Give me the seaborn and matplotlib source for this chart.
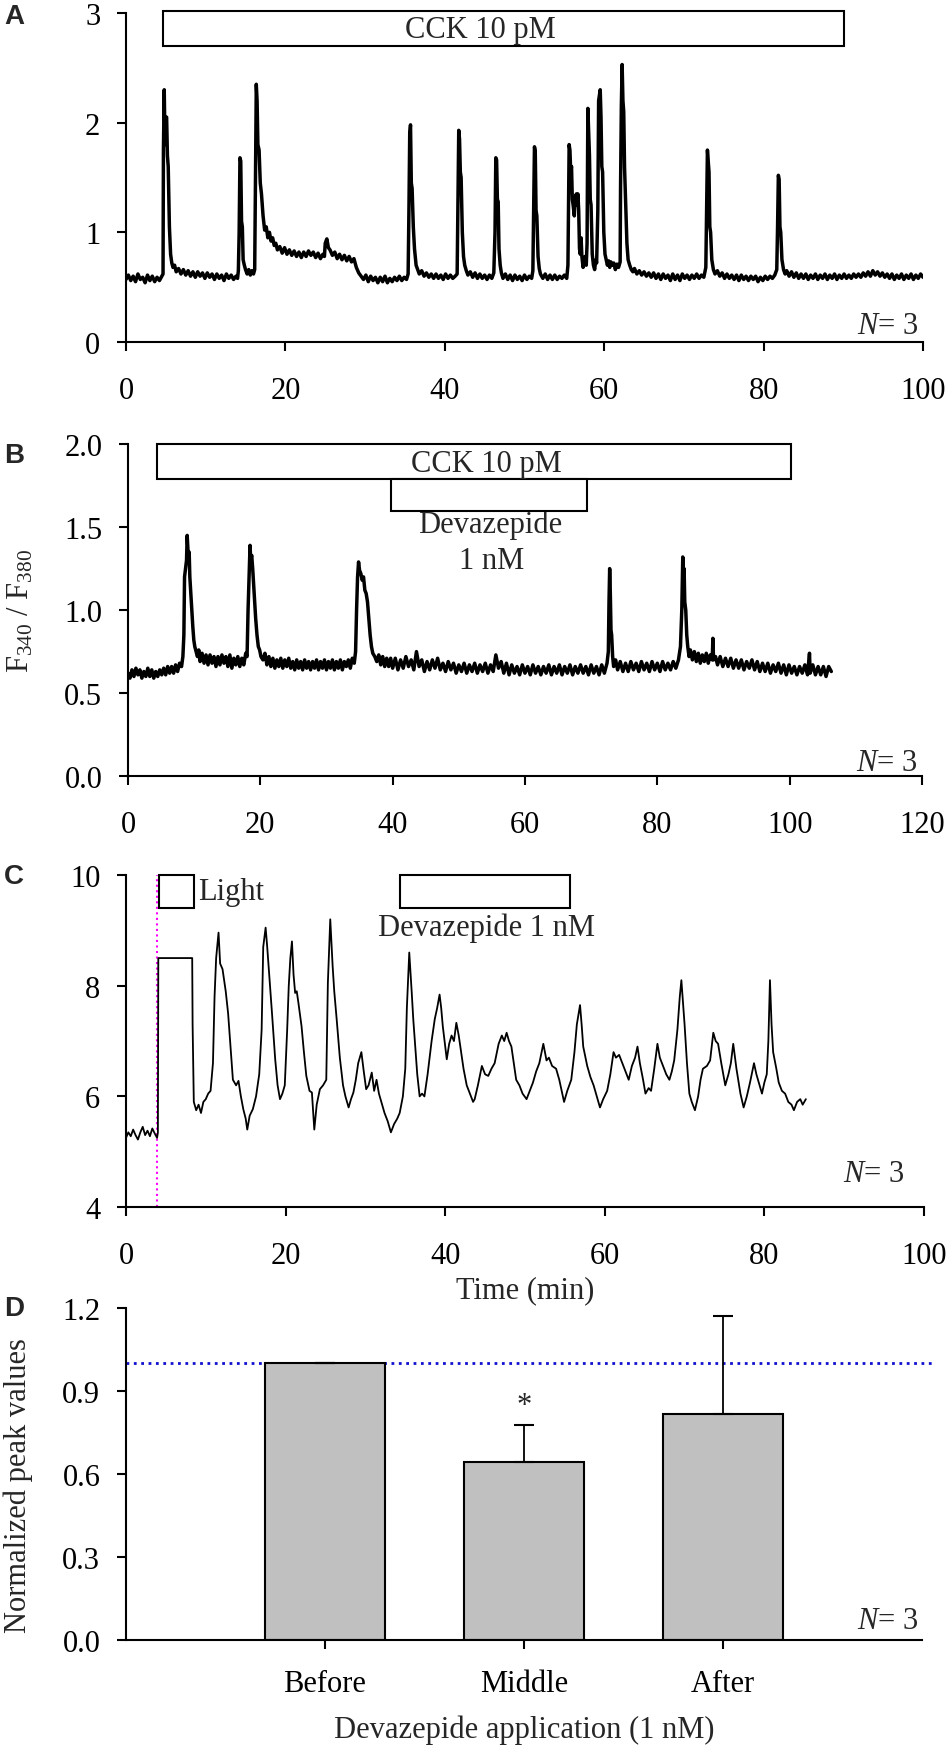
import numpy as np
import pandas as pd
import matplotlib
matplotlib.use("Agg")
import matplotlib.pyplot as plt
from matplotlib.patches import Rectangle
import seaborn as sns

sns.set_theme(style="ticks")
plt.rcParams["font.family"] = ["Liberation Serif", "DejaVu Serif"]
plt.rcParams["mathtext.fontset"] = "custom"
plt.rcParams["mathtext.rm"] = "Liberation Serif"
plt.rcParams["mathtext.it"] = "Liberation Serif:italic"

FS = 22

# ---- panel A: CCK 10 pM, (time min, F340/F380)
trace_a = [
    (0.0, 0.57), (0.3, 0.61), (0.6, 0.56), (0.9, 0.60), (1.2, 0.55), (1.5, 0.62), (1.8, 0.57), (2.1, 0.59),
    (2.4, 0.54), (2.7, 0.61), (3.0, 0.56), (3.3, 0.60), (3.6, 0.55), (3.9, 0.59), (4.2, 0.56), (4.5, 0.60),
    (4.65, 0.62), (4.7, 1.75), (4.8, 2.30), (4.9, 1.80), (5.0, 2.05), (5.1, 2.05), (5.2, 1.70), (5.3, 1.60),
    (5.45, 1.05), (5.6, 0.80), (5.75, 0.72), (5.9, 0.68), (6.1, 0.70), (6.3, 0.64), (6.6, 0.67), (6.9, 0.62),
    (7.2, 0.66), (7.5, 0.61), (7.8, 0.65), (8.1, 0.60), (8.4, 0.64), (8.7, 0.59), (9.0, 0.64), (9.3, 0.60),
    (9.6, 0.63), (9.9, 0.58), (10.2, 0.63), (10.5, 0.59), (10.8, 0.62), (11.1, 0.57), (11.4, 0.62), (11.7, 0.58),
    (12.0, 0.61), (12.3, 0.56), (12.6, 0.62), (12.9, 0.58), (13.2, 0.61), (13.5, 0.57), (13.8, 0.60), (14.0, 0.58),
    (14.1, 0.65), (14.2, 1.00), (14.3, 1.68), (14.4, 1.65), (14.5, 1.10), (14.6, 1.05), (14.7, 0.75), (14.85, 0.70),
    (15.0, 0.66), (15.2, 0.62), (15.4, 0.66), (15.6, 0.61), (15.8, 0.65), (16.0, 0.62), (16.15, 0.66),
    (16.25, 1.50), (16.35, 2.35), (16.45, 2.20), (16.55, 1.80), (16.7, 1.75), (16.85, 1.45), (17.0, 1.35),
    (17.2, 1.15), (17.4, 1.02), (17.6, 1.05), (17.8, 0.95), (18.0, 1.00), (18.2, 0.92), (18.4, 0.95), (18.6, 0.88),
    (18.8, 0.90), (19.0, 0.84), (19.3, 0.87), (19.6, 0.81), (19.9, 0.86), (20.2, 0.80), (20.5, 0.84), (20.8, 0.79),
    (21.1, 0.83), (21.4, 0.78), (21.7, 0.82), (22.0, 0.77), (22.3, 0.82), (22.6, 0.78), (22.9, 0.83), (23.2, 0.79),
    (23.5, 0.82), (23.8, 0.77), (24.1, 0.81), (24.4, 0.76), (24.7, 0.80), (24.9, 0.78), (25.0, 0.90), (25.2, 0.94),
    (25.4, 0.86), (25.6, 0.84), (25.9, 0.79), (26.2, 0.82), (26.5, 0.76), (26.8, 0.80), (27.1, 0.75), (27.4, 0.79),
    (27.7, 0.74), (28.0, 0.78), (28.3, 0.73), (28.6, 0.76), (28.9, 0.68), (29.2, 0.63), (29.5, 0.60), (29.8, 0.57),
    (30.1, 0.61), (30.4, 0.55), (30.7, 0.60), (31.0, 0.56), (31.3, 0.59), (31.6, 0.54), (31.9, 0.59), (32.2, 0.55),
    (32.5, 0.60), (32.8, 0.54), (33.1, 0.58), (33.4, 0.55), (33.7, 0.59), (34.0, 0.56), (34.3, 0.60), (34.6, 0.56),
    (34.9, 0.59), (35.2, 0.57), (35.4, 0.62), (35.5, 1.20), (35.6, 1.90), (35.7, 1.98), (35.8, 1.45), (35.9, 1.40),
    (36.05, 1.05), (36.2, 0.85), (36.4, 0.70), (36.6, 0.66), (36.8, 0.62), (37.1, 0.65), (37.4, 0.60), (37.7, 0.63),
    (38.0, 0.59), (38.3, 0.62), (38.6, 0.58), (38.9, 0.62), (39.2, 0.58), (39.5, 0.61), (39.8, 0.57), (40.1, 0.62),
    (40.4, 0.58), (40.7, 0.61), (41.0, 0.58), (41.3, 0.60), (41.55, 0.62), (41.65, 1.30), (41.75, 1.93), (41.85, 1.85),
    (41.95, 1.55), (42.05, 1.50), (42.2, 1.00), (42.35, 0.78), (42.5, 0.70), (42.7, 0.65), (42.9, 0.61), (43.2, 0.64),
    (43.5, 0.59), (43.8, 0.63), (44.1, 0.58), (44.4, 0.62), (44.7, 0.58), (45.0, 0.61), (45.3, 0.57), (45.6, 0.61),
    (45.9, 0.58), (46.15, 0.63), (46.3, 1.00), (46.4, 1.68), (46.5, 1.66), (46.6, 1.30), (46.7, 1.28), (46.8, 0.85),
    (46.95, 0.70), (47.1, 0.63), (47.3, 0.58), (47.6, 0.62), (47.9, 0.57), (48.2, 0.61), (48.5, 0.56), (48.8, 0.61),
    (49.1, 0.57), (49.4, 0.60), (49.7, 0.56), (50.0, 0.61), (50.3, 0.57), (50.6, 0.60), (50.9, 0.58), (51.05, 0.65),
    (51.15, 1.20), (51.25, 1.78), (51.35, 1.74), (51.45, 1.20), (51.55, 1.15), (51.7, 0.78), (51.85, 0.67),
    (52.0, 0.62), (52.3, 0.58), (52.6, 0.62), (52.9, 0.57), (53.2, 0.61), (53.5, 0.57), (53.8, 0.61), (54.1, 0.57),
    (54.4, 0.60), (54.7, 0.58), (55.0, 0.61), (55.3, 0.58), (55.45, 0.70), (55.6, 1.80), (55.7, 1.75), (55.8, 1.55),
    (55.9, 1.60), (56.0, 1.30), (56.1, 1.25), (56.25, 1.15), (56.35, 1.30), (56.5, 1.35), (56.6, 1.25), (56.7, 1.35),
    (56.8, 1.20), (56.9, 0.85), (57.0, 0.80), (57.1, 0.95), (57.2, 0.78), (57.35, 0.68), (57.5, 0.75), (57.6, 0.78),
    (57.75, 0.70), (57.85, 0.90), (57.95, 2.13), (58.05, 1.90), (58.15, 1.70), (58.25, 1.30), (58.35, 1.25),
    (58.5, 0.80), (58.65, 0.70), (58.8, 0.66), (58.95, 0.75), (59.05, 0.72), (59.2, 1.20), (59.3, 2.20), (59.4, 2.25),
    (59.5, 2.30), (59.6, 2.05), (59.7, 1.60), (59.8, 1.55), (59.95, 1.00), (60.1, 0.80), (60.25, 0.75), (60.4, 0.70),
    (60.55, 0.74), (60.7, 0.68), (60.85, 0.73), (61.0, 0.70), (61.2, 0.72), (61.4, 0.66), (61.6, 0.71), (61.8, 0.68),
    (62.0, 0.73), (62.05, 1.40), (62.15, 2.15), (62.25, 2.53), (62.35, 2.20), (62.45, 2.10), (62.55, 1.60),
    (62.7, 1.25), (62.85, 0.90), (63.0, 0.75), (63.2, 0.70), (63.4, 0.66), (63.6, 0.64), (63.8, 0.67), (64.1, 0.62),
    (64.4, 0.65), (64.7, 0.61), (65.0, 0.64), (65.3, 0.60), (65.6, 0.63), (65.9, 0.59), (66.2, 0.63), (66.5, 0.58),
    (66.8, 0.62), (67.1, 0.57), (67.4, 0.62), (67.7, 0.58), (68.0, 0.61), (68.3, 0.56), (68.6, 0.62), (68.9, 0.57),
    (69.2, 0.61), (69.5, 0.56), (69.8, 0.62), (70.1, 0.58), (70.4, 0.61), (70.7, 0.57), (71.0, 0.61), (71.3, 0.58),
    (71.6, 0.62), (71.9, 0.58), (72.2, 0.61), (72.5, 0.59), (72.75, 0.68), (72.85, 1.20), (72.95, 1.75), (73.05, 1.65),
    (73.15, 1.55), (73.25, 1.05), (73.35, 1.00), (73.5, 0.75), (73.7, 0.66), (73.9, 0.62), (74.2, 0.65), (74.5, 0.60),
    (74.8, 0.63), (75.1, 0.58), (75.4, 0.62), (75.7, 0.58), (76.0, 0.61), (76.3, 0.57), (76.6, 0.61), (76.9, 0.56),
    (77.2, 0.61), (77.5, 0.57), (77.8, 0.60), (78.1, 0.56), (78.4, 0.60), (78.7, 0.57), (79.0, 0.60), (79.3, 0.55),
    (79.6, 0.59), (79.9, 0.56), (80.2, 0.60), (80.5, 0.57), (80.8, 0.60), (81.1, 0.58), (81.4, 0.61), (81.65, 0.66),
    (81.75, 1.05), (81.85, 1.52), (81.95, 1.48), (82.05, 1.05), (82.15, 1.00), (82.3, 0.75), (82.5, 0.66),
    (82.7, 0.62), (82.9, 0.65), (83.2, 0.60), (83.5, 0.64), (83.8, 0.59), (84.1, 0.63), (84.4, 0.58), (84.7, 0.62),
    (85.0, 0.58), (85.3, 0.62), (85.6, 0.57), (85.9, 0.61), (86.2, 0.58), (86.5, 0.62), (86.8, 0.57), (87.1, 0.61),
    (87.4, 0.58), (87.7, 0.62), (88.0, 0.57), (88.3, 0.61), (88.6, 0.58), (88.9, 0.62), (89.2, 0.57), (89.5, 0.61),
    (89.8, 0.58), (90.1, 0.62), (90.4, 0.58), (90.7, 0.61), (91.0, 0.58), (91.3, 0.62), (91.6, 0.59), (91.9, 0.62),
    (92.2, 0.59), (92.5, 0.63), (92.8, 0.60), (93.1, 0.64), (93.4, 0.60), (93.7, 0.65), (94.0, 0.61), (94.3, 0.64),
    (94.6, 0.60), (94.9, 0.63), (95.2, 0.59), (95.5, 0.62), (95.8, 0.58), (96.1, 0.62), (96.4, 0.57), (96.7, 0.61),
    (97.0, 0.58), (97.3, 0.62), (97.6, 0.57), (97.9, 0.61), (98.2, 0.58), (98.5, 0.62), (98.8, 0.57), (99.1, 0.61),
    (99.4, 0.58), (99.7, 0.62), (100.0, 0.59),
]

# ---- panel B: CCK 10 pM + devazepide 1 nM
trace_b = [
    (0.0, 0.62), (0.3, 0.59), (0.6, 0.64), (0.9, 0.60), (1.2, 0.65), (1.5, 0.61), (1.8, 0.64), (2.1, 0.59),
    (2.4, 0.63), (2.7, 0.60), (3.0, 0.65), (3.3, 0.60), (3.6, 0.64), (3.9, 0.59), (4.2, 0.63), (4.5, 0.60),
    (4.8, 0.64), (5.1, 0.61), (5.4, 0.65), (5.7, 0.61), (6.0, 0.66), (6.3, 0.62), (6.6, 0.66), (6.9, 0.62),
    (7.2, 0.67), (7.5, 0.63), (7.8, 0.68), (8.1, 0.66), (8.3, 0.72), (8.45, 0.85), (8.55, 1.20), (8.7, 1.25),
    (8.85, 1.30), (8.95, 1.45), (9.05, 1.38), (9.15, 1.30), (9.25, 1.35), (9.35, 1.20), (9.5, 1.10), (9.65, 1.00),
    (9.8, 0.90), (9.95, 0.82), (10.1, 0.78), (10.3, 0.75), (10.5, 0.72), (10.7, 0.76), (10.9, 0.69), (11.2, 0.74),
    (11.5, 0.68), (11.8, 0.73), (12.1, 0.67), (12.4, 0.73), (12.7, 0.68), (13.0, 0.72), (13.3, 0.66), (13.6, 0.72),
    (13.9, 0.67), (14.2, 0.73), (14.5, 0.68), (14.8, 0.72), (15.1, 0.66), (15.4, 0.73), (15.7, 0.65), (16.0, 0.71),
    (16.3, 0.67), (16.6, 0.72), (16.9, 0.66), (17.2, 0.71), (17.5, 0.67), (17.8, 0.74), (18.0, 0.72), (18.15, 1.00),
    (18.3, 1.20), (18.45, 1.39), (18.55, 1.30), (18.7, 1.33), (18.85, 1.25), (19.0, 1.15), (19.15, 1.05),
    (19.3, 0.95), (19.5, 0.85), (19.7, 0.78), (19.9, 0.76), (20.1, 0.72), (20.4, 0.70), (20.7, 0.74), (21.0, 0.67),
    (21.3, 0.72), (21.6, 0.66), (21.9, 0.71), (22.2, 0.65), (22.5, 0.70), (22.8, 0.66), (23.1, 0.71), (23.4, 0.65),
    (23.7, 0.70), (24.0, 0.66), (24.3, 0.71), (24.6, 0.65), (24.9, 0.69), (25.2, 0.64), (25.5, 0.70), (25.8, 0.65),
    (26.1, 0.69), (26.4, 0.64), (26.7, 0.70), (27.0, 0.65), (27.3, 0.69), (27.6, 0.64), (27.9, 0.69), (28.2, 0.65),
    (28.5, 0.70), (28.8, 0.64), (29.1, 0.69), (29.4, 0.65), (29.7, 0.70), (30.0, 0.64), (30.3, 0.69), (30.6, 0.65),
    (30.9, 0.70), (31.2, 0.64), (31.5, 0.69), (31.8, 0.65), (32.1, 0.70), (32.4, 0.64), (32.7, 0.69), (33.0, 0.66),
    (33.3, 0.70), (33.6, 0.65), (33.9, 0.71), (34.2, 0.68), (34.4, 0.75), (34.55, 1.00), (34.7, 1.20), (34.85, 1.29),
    (35.0, 1.24), (35.2, 1.22), (35.4, 1.18), (35.6, 1.20), (35.8, 1.12), (36.0, 1.10), (36.2, 1.05), (36.4, 0.95),
    (36.6, 0.85), (36.8, 0.78), (37.0, 0.74), (37.3, 0.72), (37.6, 0.69), (37.9, 0.73), (38.2, 0.67), (38.5, 0.72),
    (38.8, 0.66), (39.1, 0.71), (39.4, 0.66), (39.7, 0.71), (40.0, 0.65), (40.4, 0.71), (40.8, 0.64), (41.2, 0.70),
    (41.6, 0.65), (42.0, 0.72), (42.4, 0.66), (42.8, 0.70), (43.2, 0.64), (43.6, 0.75), (44.0, 0.66), (44.4, 0.70),
    (44.8, 0.63), (45.2, 0.69), (45.6, 0.64), (46.0, 0.70), (46.4, 0.65), (46.8, 0.71), (47.2, 0.64), (47.6, 0.68),
    (48.0, 0.63), (48.4, 0.69), (48.8, 0.64), (49.2, 0.68), (49.6, 0.62), (50.0, 0.67), (50.4, 0.63), (50.8, 0.68),
    (51.2, 0.62), (51.6, 0.67), (52.0, 0.63), (52.4, 0.68), (52.8, 0.62), (53.2, 0.67), (53.6, 0.63), (54.0, 0.68),
    (54.4, 0.62), (54.8, 0.67), (55.2, 0.63), (55.6, 0.73), (56.0, 0.65), (56.4, 0.69), (56.8, 0.62), (57.2, 0.68),
    (57.6, 0.61), (58.0, 0.67), (58.4, 0.62), (58.8, 0.66), (59.2, 0.61), (59.6, 0.67), (60.0, 0.62), (60.4, 0.66),
    (60.8, 0.61), (61.2, 0.67), (61.6, 0.62), (62.0, 0.66), (62.4, 0.61), (62.8, 0.66), (63.2, 0.62), (63.6, 0.67),
    (64.0, 0.61), (64.4, 0.66), (64.8, 0.62), (65.2, 0.67), (65.6, 0.61), (66.0, 0.66), (66.4, 0.62), (66.8, 0.67),
    (67.2, 0.61), (67.6, 0.66), (68.0, 0.62), (68.4, 0.67), (68.8, 0.62), (69.2, 0.66), (69.6, 0.61), (70.0, 0.67),
    (70.4, 0.62), (70.8, 0.66), (71.2, 0.61), (71.6, 0.67), (72.0, 0.62), (72.4, 0.68), (72.6, 0.75), (72.7, 1.05),
    (72.8, 1.25), (72.9, 1.10), (73.0, 0.88), (73.1, 0.85), (73.25, 0.72), (73.4, 0.66), (73.7, 0.70), (74.0, 0.64),
    (74.4, 0.69), (74.8, 0.63), (75.2, 0.68), (75.6, 0.63), (76.0, 0.69), (76.4, 0.64), (76.8, 0.68), (77.2, 0.63),
    (77.6, 0.69), (78.0, 0.64), (78.4, 0.68), (78.8, 0.63), (79.2, 0.69), (79.6, 0.64), (80.0, 0.68), (80.4, 0.63),
    (80.8, 0.69), (81.2, 0.64), (81.6, 0.68), (82.0, 0.64), (82.4, 0.69), (82.8, 0.65), (83.2, 0.70), (83.5, 0.78),
    (83.7, 1.00), (83.85, 1.32), (83.95, 1.20), (84.05, 1.25), (84.15, 1.05), (84.3, 1.00), (84.45, 0.85),
    (84.6, 0.78), (84.8, 0.72), (85.0, 0.76), (85.3, 0.70), (85.6, 0.75), (85.9, 0.69), (86.2, 0.74), (86.5, 0.68),
    (86.8, 0.73), (87.1, 0.69), (87.4, 0.74), (87.7, 0.68), (88.0, 0.73), (88.3, 0.70), (88.4, 0.83), (88.5, 0.70),
    (88.8, 0.72), (89.1, 0.67), (89.5, 0.72), (89.9, 0.66), (90.3, 0.71), (90.7, 0.66), (91.1, 0.71), (91.5, 0.65),
    (91.9, 0.70), (92.3, 0.65), (92.7, 0.70), (93.1, 0.64), (93.5, 0.69), (93.9, 0.65), (94.3, 0.70), (94.7, 0.64),
    (95.1, 0.69), (95.5, 0.63), (95.9, 0.68), (96.3, 0.63), (96.7, 0.68), (97.1, 0.62), (97.5, 0.67), (97.9, 0.63),
    (98.3, 0.68), (98.7, 0.62), (99.1, 0.67), (99.5, 0.61), (99.9, 0.67), (100.3, 0.62), (100.7, 0.66), (101.1, 0.61),
    (101.5, 0.66), (101.9, 0.62), (102.3, 0.67), (102.7, 0.61), (103.0, 0.74), (103.1, 0.62), (103.5, 0.67),
    (103.9, 0.61), (104.3, 0.66), (104.7, 0.61), (105.1, 0.66), (105.5, 0.60), (105.9, 0.66), (106.3, 0.63),
]

# ---- panel C: light stimulation + devazepide 1 nM
trace_c = [
    (0.0, 5.25), (0.3, 5.35), (0.6, 5.28), (0.9, 5.40), (1.2, 5.30), (1.5, 5.22), (1.8, 5.35), (2.1, 5.45),
    (2.4, 5.30), (2.7, 5.38), (3.0, 5.28), (3.3, 5.42), (3.6, 5.33), (3.9, 5.25), (4.0, 5.35),
    (4.05, 8.50), (8.3, 8.50), (8.35, 7.30), (8.5, 5.90), (8.8, 5.75), (9.1, 5.85), (9.4, 5.70), (9.7, 5.90),
    (10.0, 5.95), (10.3, 6.05), (10.6, 6.10), (10.9, 6.60), (11.1, 7.80), (11.3, 8.50), (11.6, 8.96), (11.8, 8.40),
    (12.1, 8.30), (12.5, 7.90), (12.8, 7.50), (13.1, 6.90), (13.4, 6.30), (13.8, 6.20), (14.1, 6.28), (14.4, 6.00),
    (14.7, 5.77), (15.0, 5.60), (15.2, 5.40), (15.5, 5.65), (15.9, 5.77), (16.3, 6.00), (16.7, 6.40), (17.0, 7.20),
    (17.2, 8.70), (17.5, 9.05), (17.7, 8.70), (18.0, 8.10), (18.3, 7.50), (18.7, 6.67), (19.0, 6.20), (19.3, 5.95),
    (19.6, 6.05), (19.9, 6.20), (20.2, 7.20), (20.4, 8.00), (20.6, 8.50), (20.8, 8.80), (21.0, 8.20),
    (21.2, 7.87), (21.4, 7.90), (21.6, 7.70), (22.0, 7.27), (22.3, 6.80), (22.6, 6.37), (23.0, 6.10), (23.3, 6.07),
    (23.6, 5.40), (23.9, 5.85), (24.3, 6.13), (24.7, 6.20), (25.1, 6.30), (25.3, 8.05), (25.6, 9.20), (25.9, 8.35),
    (26.1, 7.90), (26.4, 7.40), (26.8, 6.70), (27.2, 6.20), (27.5, 6.00), (27.9, 5.80), (28.2, 5.95), (28.5, 6.07),
    (28.8, 6.30), (29.1, 6.60), (29.5, 6.80), (29.8, 6.45), (30.1, 6.13), (30.4, 6.20), (30.8, 6.43), (31.1, 6.10),
    (31.4, 6.30), (31.7, 6.05), (32.0, 5.90), (32.4, 5.70), (32.8, 5.55), (33.2, 5.35), (33.6, 5.50), (34.0, 5.60),
    (34.3, 5.70), (34.7, 6.00), (35.0, 6.50), (35.2, 7.60), (35.5, 8.60), (35.8, 7.90), (36.0, 7.40), (36.2, 7.00),
    (36.5, 6.40), (36.8, 6.00), (37.1, 6.05), (37.4, 6.00), (37.8, 6.40), (38.3, 7.00), (38.7, 7.40), (39.0, 7.60),
    (39.3, 7.84), (39.5, 7.60), (39.7, 7.27), (40.0, 6.90), (40.2, 6.67), (40.5, 6.95), (40.8, 7.10), (41.1, 7.00),
    (41.4, 7.33), (41.7, 7.10), (42.0, 6.80), (42.3, 6.50), (42.7, 6.20), (43.1, 6.05), (43.5, 5.90), (43.7, 5.95),
    (44.1, 6.20), (44.6, 6.55), (45.0, 6.40), (45.4, 6.37), (45.8, 6.50), (46.2, 6.60), (46.7, 6.95), (47.1, 7.10),
    (47.4, 7.00), (47.7, 7.15), (48.0, 7.00), (48.3, 6.90), (48.6, 6.60), (48.9, 6.30), (49.3, 6.20), (49.7, 6.05),
    (50.2, 5.95), (50.6, 6.10), (51.0, 6.25), (51.4, 6.45), (51.8, 6.60), (52.3, 6.95), (52.7, 6.65), (53.0, 6.70),
    (53.4, 6.55), (53.9, 6.50), (54.3, 6.30), (54.6, 6.10), (54.9, 5.90), (55.3, 6.10), (55.8, 6.30), (56.2, 6.80),
    (56.5, 7.30), (56.9, 7.65), (57.1, 7.30), (57.3, 6.90), (57.8, 6.55), (58.2, 6.35), (58.6, 6.20), (59.0, 6.00),
    (59.4, 5.80), (59.8, 5.95), (60.3, 6.10), (60.7, 6.40), (61.1, 6.80), (61.4, 6.70), (61.8, 6.75), (62.2, 6.60),
    (62.6, 6.45), (63.0, 6.30), (63.4, 6.55), (63.8, 6.70), (64.1, 6.90), (64.4, 6.60), (64.8, 6.30), (65.1, 6.05),
    (65.5, 6.15), (65.8, 6.10), (66.2, 6.50), (66.6, 6.95), (66.9, 6.70), (67.3, 6.55), (67.7, 6.40), (68.1, 6.30),
    (68.4, 6.45), (68.7, 6.65), (69.1, 7.20), (69.4, 7.80), (69.6, 8.10), (69.8, 7.70), (70.0, 7.30), (70.3, 6.60),
    (70.6, 6.05), (70.9, 5.90), (71.3, 5.75), (71.7, 6.00), (72.0, 6.30), (72.3, 6.50), (72.8, 6.55), (73.2, 6.65),
    (73.6, 7.15), (73.9, 7.00), (74.2, 6.95), (74.6, 6.60), (75.1, 6.20), (75.5, 6.40), (75.8, 6.60), (76.1, 6.95),
    (76.5, 6.50), (77.0, 6.05), (77.4, 5.80), (77.8, 6.00), (78.2, 6.25), (78.7, 6.60), (79.0, 6.40), (79.4, 6.20),
    (79.7, 6.05), (80.0, 6.25), (80.3, 6.40), (80.5, 7.00), (80.7, 8.10), (80.9, 7.30), (81.1, 6.80), (81.5, 6.50),
    (81.8, 6.25), (82.2, 6.10), (82.6, 6.05), (83.0, 5.90), (83.4, 5.85), (83.7, 5.75), (84.1, 5.90), (84.5, 5.95),
    (84.8, 5.85), (85.2, 5.95),
]

# ---- treatment periods (start, end) in minutes
cck_a = (4.6, 90.1)
cck_b = (4.4, 100.2)
devaz_b = (39.7, 69.3)
light_c = (4.2, 8.5)
devaz_c = (34.3, 55.6)
light_on_c = 3.9

# ---- panel D: normalized peak values
phases = ["Before", "Middle", "After"]
peak_mean = [1.0, 0.643, 0.817]
peak_err = [0.0, 0.134, 0.354]

fig = plt.figure(figsize=(9.5, 17.49), dpi=100)
axA = fig.add_axes([0.1326, 0.8039, 0.839, 0.1881])
axB = fig.add_axes([0.1347, 0.5557, 0.8358, 0.1898])
axC = fig.add_axes([0.1326, 0.3093, 0.840, 0.1898])
axD = fig.add_axes([0.1326, 0.0617, 0.838, 0.1898])


def style_axis(ax):
    sns.despine(ax=ax)
    for s in ("left", "bottom"):
        ax.spines[s].set_linewidth(1.5)
        ax.spines[s].set_color("black")
    ax.tick_params(axis="both", direction="out", length=6.5, width=1.5, colors="black",
                   labelsize=FS)
    ax.tick_params(axis="x", pad=18)
    ax.tick_params(axis="y", pad=12)
    ax.set_xlabel("")
    ax.set_ylabel("")


def box(ax, span, y0, y1):
    ax.add_patch(Rectangle((span[0], y0), span[1] - span[0], y1 - y0, facecolor="white",
                           edgecolor="black", lw=1.5, clip_on=False, zorder=5))


def n_label(ax, x, y):
    ax.text(x, y, r"$N$= 3", ha="right", va="center", fontsize=FS)


def trace(ax, rows, lw):
    df = pd.DataFrame(rows, columns=["time", "ratio"])
    sns.lineplot(data=df, x="time", y="ratio", ax=ax, estimator=None, sort=False,
                 color="black", lw=lw)


def side_label(ax, text, xpx_center, axis_left_px, width_px, ypos=0.5):
    ax.set_ylabel(text, fontsize=FS)
    ax.yaxis.set_label_coords((xpx_center - axis_left_px) / width_px, ypos)
    ax.yaxis.label.set_verticalalignment("center")


# A
trace(axA, trace_a, 2.5)
axA.set_xlim(0, 100)
axA.set_ylim(0, 3)
axA.set_xticks(range(0, 101, 20))
axA.set_yticks([0, 1, 2, 3])
style_axis(axA)
box(axA, cck_a, 2.70, 3.02)
axA.text(44.5, 2.85, "CCK 10 pM", ha="center", va="center", fontsize=FS, zorder=6)
n_label(axA, 99.4, 0.15)

# B
trace(axB, trace_b, 2.5)
axB.set_xlim(0, 120)
axB.set_ylim(0, 2)
axB.set_xticks(range(0, 121, 20))
axB.set_yticks([0, 0.5, 1.0, 1.5, 2.0])
axB.set_yticklabels(["0.0", "0.5", "1.0", "1.5", "2.0"])
style_axis(axB)
box(axB, cck_b, 1.79, 2.0)
box(axB, devaz_b, 1.6, 1.79)
axB.text(54.1, 1.885, "CCK 10 pM", ha="center", va="center", fontsize=FS, zorder=6)
axB.text(54.7, 1.52, "Devazepide", ha="center", va="center", fontsize=FS)
axB.text(55.0, 1.30, "1 nM", ha="center", va="center", fontsize=FS)
side_label(axB, r"F$_{340}$ / F$_{380}$", 21, 128, 794)
n_label(axB, 119.3, 0.08)

# C
axC.axvline(light_on_c, ymin=0, ymax=1, color="#ff00ff", ls=":", lw=1.5)
trace(axC, trace_c, 1.3)
axC.set_xlim(0, 100)
axC.set_ylim(4, 10)
axC.set_xticks(range(0, 101, 20))
axC.set_yticks([4, 6, 8, 10])
style_axis(axC)
box(axC, light_c, 9.41, 10.0)
box(axC, devaz_c, 9.41, 10.0)
axC.text(9.0, 9.7, "Light", ha="left", va="center", fontsize=FS)
axC.text(45.2, 9.05, "Devazepide 1 nM", ha="center", va="center", fontsize=FS)
axC.set_xlabel("Time (min)", fontsize=FS, labelpad=4)
n_label(axC, 97.6, 4.6)

# D
dfD = pd.DataFrame({"phase": phases, "peak": peak_mean})
sns.barplot(data=dfD, x="phase", y="peak", order=phases, color="#c0c0c0", saturation=1,
            edgecolor="black", linewidth=1.5, width=0.6, errorbar=None, ax=axD)
axD.errorbar(range(len(phases)), peak_mean, yerr=[[0] * len(phases), peak_err], fmt="none",
             ecolor="black", elinewidth=1.3, capsize=7, capthick=1.5)
axD.axhline(1.0, xmin=0, xmax=1.012, color="#1010d0", ls=":", lw=2, clip_on=False, zorder=0.5)
axD.set_xlim(-1, 3)
axD.set_ylim(0, 1.2)
axD.set_yticks([0, 0.3, 0.6, 0.9, 1.2])
axD.set_yticklabels(["0.0", "0.3", "0.6", "0.9", "1.2"])
style_axis(axD)
axD.tick_params(axis="x", pad=14)
axD.text(1, peak_mean[1] + peak_err[1] + 0.02, "*", ha="center", va="bottom", fontsize=FS)
axD.set_xlabel("Devazepide application (1 nM)", fontsize=FS, labelpad=12)
side_label(axD, "Normalized peak values", 18, 126, 796, ypos=0.47)
n_label(axD, 2.98, 0.07)

for letter, ypx in zip("ABCD", [17, 456, 877, 1309]):
    fig.text(14 / 950, 1 - ypx / 1749, letter, ha="center", va="center", fontsize=20,
             fontweight="bold", family=["Liberation Sans", "DejaVu Sans"])

fig.savefig("out.png", dpi=100)
